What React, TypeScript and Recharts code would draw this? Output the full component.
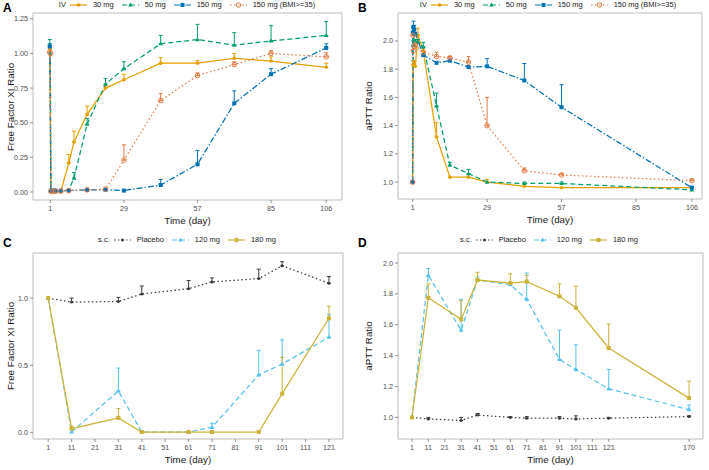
import React from "react";
import { LineChart, Line, XAxis, YAxis, ErrorBar, ReferenceArea } from "recharts";

// ---- Panel A: free FXI ratio, IV cohorts
const daysA30 = [0.8, 1.2, 2, 3, 5, 8, 10, 15, 22, 29, 43, 57, 71, 85, 106];
const valsA30 = [1.03, 0.005, 0.005, 0.005, 0.005, 0.21, 0.36, 0.56, 0.75, 0.81, 0.93, 0.93, 0.965, 0.945, 0.9];
const errsA30 = [0.02, 0, 0, 0, 0, 0.06, 0.08, 0.06, 0.02, 0.04, 0.04, 0.02, 0.035, 0.03, 0.03];

const daysA50 = [0.8, 1.0, 1.2, 2, 3, 5, 8, 10, 15, 22, 29, 43, 57, 71, 85, 106];
const valsA50 = [1.06, 1.0, 0.01, 0.01, 0.01, 0.01, 0.015, 0.1, 0.49, 0.78, 0.89, 1.07, 1.1, 1.06, 1.09, 1.13];
const errsA50 = [0.04, 0, 0, 0, 0, 0, 0, 0.04, 0.04, 0.04, 0.05, 0.06, 0.11, 0.09, 0.11, 0.1];

const daysA150 = [0.8, 1.2, 2, 3, 5, 8, 15, 22, 29, 43, 57, 71, 85, 106];
const valsA150 = [1.05, 0.01, 0.01, 0.01, 0.01, 0.01, 0.015, 0.015, 0.01, 0.05, 0.2, 0.64, 0.85, 1.04];
const errsA150 = [0.02, 0, 0, 0, 0, 0, 0, 0, 0, 0.04, 0.1, 0.09, 0.04, 0.03];

const daysABmi = [0.8, 1.0, 1.2, 2, 3, 5, 8, 15, 22, 29, 43, 57, 71, 85, 106];
const valsABmi = [1.01, 1.0, 0.005, 0.005, 0.005, 0.005, 0.01, 0.015, 0.02, 0.23, 0.66, 0.84, 0.92, 1.0, 0.975];
const errsABmi = [0, 0, 0, 0, 0, 0, 0, 0, 0, 0.11, 0.05, 0.02, 0.02, 0.02, 0.03];

// ---- Panel B: aPTT ratio, IV cohorts
const daysB30 = [1, 1.2, 1.5, 2, 3, 5, 10, 15, 22, 29, 43, 57, 106];
const valsB30 = [1.0, 1.83, 1.85, 1.82, 2.04, 1.93, 1.32, 1.035, 1.035, 1.0, 0.97, 0.96, 0.96];
const errsB30 = [0, 0.03, 0, 0, 0.05, 0.02, 0.1, 0, 0.02, 0.02, 0, 0, 0];

const daysB50 = [1, 1.2, 1.5, 2, 3, 5, 10, 15, 22, 29, 43, 57, 106];
const valsB50 = [1.0, 1.97, 2.01, 2.0, 1.99, 1.96, 1.54, 1.12, 1.06, 1.0, 0.99, 0.99, 0.945];
const errsB50 = [0, 0.03, 0.03, 0, 0.02, 0.03, 0.09, 0.02, 0.03, 0, 0.01, 0.01, 0];

const daysB150 = [1, 1.1, 1.3, 1.6, 2, 5, 10, 15, 22, 29, 43, 57, 106];
const valsB150 = [1.0, 2.06, 2.1, 2.08, 2.05, 1.9, 1.845, 1.86, 1.815, 1.82, 1.72, 1.53, 0.96];
const errsB150 = [0, 0.03, 0.04, 0.03, 0, 0, 0, 0.01, 0, 0.055, 0.12, 0.16, 0.01];

const daysBBmi = [1, 1.1, 1.3, 1.6, 2, 5, 10, 15, 22, 29, 43, 57, 106];
const valsBBmi = [1.0, 2.04, 1.93, 1.96, 1.97, 1.92, 1.89, 1.88, 1.85, 1.4, 1.08, 1.05, 1.01];
const errsBBmi = [0, 0.02, 0, 0.02, 0, 0, 0.03, 0.01, 0.04, 0.2, 0.02, 0.01, 0.01];

// ---- Panel C: free FXI ratio, s.c. cohorts
const daysC = [1, 11, 31, 41, 61, 71, 91, 101, 121];
const valsCPlacebo = [1.0, 0.97, 0.975, 1.03, 1.07, 1.12, 1.145, 1.24, 1.11];
const errsCPlacebo = [0, 0.03, 0.03, 0.06, 0.06, 0.03, 0.07, 0.03, 0.05];
const valsC120 = [1.0, 0.005, 0.31, 0.005, 0.005, 0.04, 0.43, 0.51, 0.71];
const errsC120 = [0, 0, 0.17, 0, 0, 0.03, 0.18, 0.18, 0.17];
const valsC180 = [1.0, 0.03, 0.11, 0.005, 0.005, 0.005, 0.005, 0.29, 0.85];
const errsC180 = [0, 0.02, 0.07, 0, 0, 0, 0, 0.27, 0.09];

// ---- Panel D: aPTT ratio, s.c. cohorts
const daysD = [1, 11, 31, 41, 61, 71, 91, 101, 121, 170];
const valsDPlacebo = [1.0, 0.99, 0.98, 1.015, 1.0, 0.995, 0.995, 0.99, 0.995, 1.005];
const errsDPlacebo = [0, 0.01, 0.02, 0.01, 0.005, 0.01, 0.01, 0.02, 0.005, 0.005];
const valsD120 = [1.0, 1.92, 1.565, 1.89, 1.86, 1.765, 1.375, 1.31, 1.185, 1.05];
const errsD120 = [0, 0.045, 0.2, 0.02, 0.01, 0.17, 0.19, 0.16, 0.125, 0.03];
const valsD180 = [1.0, 1.775, 1.635, 1.89, 1.87, 1.88, 1.785, 1.71, 1.45, 1.125];
const errsD180 = [0, 0.09, 0.12, 0.05, 0.06, 0.04, 0.08, 0.14, 0.155, 0.11];

const ticksIvX = [1, 29, 57, 85, 106];
const ticksCX = [1, 11, 21, 31, 41, 51, 61, 71, 81, 91, 101, 111, 121];
const ticksDX = [1, 11, 21, 31, 41, 51, 61, 71, 81, 91, 101, 111, 121, 170];
const ticksAY = [0, 0.25, 0.5, 0.75, 1, 1.25];
const ticksAptt = [1.0, 1.2, 1.4, 1.6, 1.8, 2.0];
const ticksCY = [0, 0.5, 1.0];

const FONT = '"Liberation Sans", Arial, sans-serif';

const C30 = "#E69F00";
const C50 = "#009E73";
const C150 = "#0072B2";
const CBMI = "#E37B45";
const CPLA = "#3c3c3c";
const C120 = "#56C3EC";
const C180 = "#CDB23A";

type Shape = "circle" | "triangle" | "square" | "open" | "star";

function toPoints(days: number[], vals: number[], errs: number[]) {
  return days.map((d, i) => ({
    day: d,
    value: vals[i],
    err: errs[i] ? [0, errs[i]] : null,
  }));
}

function Marker({ shape, color, cx, cy }: { shape: Shape; color: string; cx: number; cy: number }) {
  if (shape === "triangle") {
    return <polygon points={`${cx},${cy - 2.4} ${cx - 2.3},${cy + 1.6} ${cx + 2.3},${cy + 1.6}`} fill={color} />;
  }
  if (shape === "square") {
    return <rect x={cx - 2} y={cy - 2} width={4} height={4} fill={color} />;
  }
  if (shape === "open") {
    return <circle cx={cx} cy={cy} r={2.3} fill="none" stroke={color} strokeWidth={1} />;
  }
  if (shape === "star") {
    return <circle cx={cx} cy={cy} r={1.5} fill={color} />;
  }
  return <circle cx={cx} cy={cy} r={1.8} fill={color} />;
}

const makeDot = (shape: Shape, color: string) => (props: any) => {
  const { cx, cy, index } = props;
  if (cx == null || cy == null) return <g key={`e-${index}`} />;
  return (
    <g key={`d-${index}`}>
      <Marker shape={shape} color={color} cx={cx} cy={cy} />
    </g>
  );
};

interface Series {
  name: string;
  color: string;
  dash?: string;
  shape: Shape;
  data: { day: number; value: number; err: number[] | null }[];
}

const seriesA: Series[] = [
  { name: "30 mg", color: C30, shape: "circle", data: toPoints(daysA30, valsA30, errsA30) },
  { name: "50 mg", color: C50, dash: "5 3", shape: "triangle", data: toPoints(daysA50, valsA50, errsA50) },
  { name: "150 mg", color: C150, dash: "6 2 1.5 2", shape: "square", data: toPoints(daysA150, valsA150, errsA150) },
  { name: "150 mg (BMI>=35)", color: CBMI, dash: "1.5 2.5", shape: "open", data: toPoints(daysABmi, valsABmi, errsABmi) },
];

const seriesB: Series[] = [
  { name: "30 mg", color: C30, shape: "circle", data: toPoints(daysB30, valsB30, errsB30) },
  { name: "50 mg", color: C50, dash: "5 3", shape: "triangle", data: toPoints(daysB50, valsB50, errsB50) },
  { name: "150 mg", color: C150, dash: "6 2 1.5 2", shape: "square", data: toPoints(daysB150, valsB150, errsB150) },
  { name: "150 mg (BMI>=35)", color: CBMI, dash: "1.5 2.5", shape: "open", data: toPoints(daysBBmi, valsBBmi, errsBBmi) },
];

const seriesC: Series[] = [
  { name: "Placebo", color: CPLA, dash: "1.5 2.5", shape: "star", data: toPoints(daysC, valsCPlacebo, errsCPlacebo) },
  { name: "120 mg", color: C120, dash: "5 3", shape: "triangle", data: toPoints(daysC, valsC120, errsC120) },
  { name: "180 mg", color: C180, shape: "square", data: toPoints(daysC, valsC180, errsC180) },
];

const seriesD: Series[] = [
  { name: "Placebo", color: CPLA, dash: "1.5 2.5", shape: "star", data: toPoints(daysD, valsDPlacebo, errsDPlacebo) },
  { name: "120 mg", color: C120, dash: "5 3", shape: "triangle", data: toPoints(daysD, valsD120, errsD120) },
  { name: "180 mg", color: C180, shape: "square", data: toPoints(daysD, valsD180, errsD180) },
];

interface PanelProps {
  letter: string;
  left: number;
  top: number;
  margin: { top: number; right: number; left: number; bottom: number };
  yWidth: number;
  xHeight: number;
  xDomain: [number, number];
  yDomain: [number, number];
  xTicks: number[];
  yTicks: number[];
  digits: number;
  yTitle: string;
  yTitleX: number;
  legendTitle: string;
  legendCenter: number;
  series: Series[];
}

const W = 354;
const H = 235;

function LegendRow({ title, series, center, top }: { title: string; series: Series[]; center: number; top: number }) {
  return (
    <div
      style={{
        position: "absolute",
        left: center - 200,
        width: 400,
        top,
        display: "flex",
        justifyContent: "center",
        alignItems: "center",
        fontFamily: FONT,
        fontSize: 7.5,
        color: "#1a1a1a",
        whiteSpace: "nowrap",
      }}
    >
      <span style={{ marginRight: 4 }}>{title}</span>
      {series.map((s) => (
        <span key={s.name} style={{ display: "flex", alignItems: "center", marginRight: 8 }}>
          <svg width={17} height={8} style={{ marginRight: 6 }}>
            <line x1={0} y1={4} x2={17} y2={4} stroke={s.color} strokeWidth={1.2} strokeDasharray={s.dash} />
            <Marker shape={s.shape} color={s.color} cx={8.5} cy={4} />
          </svg>
          <span>{s.name}</span>
        </span>
      ))}
    </div>
  );
}

function Panel(p: PanelProps) {
  const plotLeft = p.left + p.margin.left + p.yWidth;
  const plotRight = p.left + W - p.margin.right;
  const plotTop = p.top + p.margin.top;
  const plotBottom = p.top + H - p.margin.bottom - p.xHeight;
  const tickStyle = { fontSize: 7.2, fill: "#4d4d4d", fontFamily: FONT };
  return (
    <>
      <div
        style={{
          position: "absolute",
          left: p.left + 3,
          top: p.top + 1,
          fontFamily: FONT,
          fontWeight: "bold",
          fontSize: 12,
          color: "#000",
        }}
      >
        {p.letter}
      </div>
      <LegendRow title={p.legendTitle} series={p.series} center={p.legendCenter} top={p.top} />
      <div style={{ position: "absolute", left: p.left, top: p.top }}>
        <LineChart width={W} height={H} margin={p.margin}>
          <XAxis
            type="number"
            dataKey="day"
            domain={p.xDomain}
            ticks={p.xTicks}
            allowDataOverflow
            axisLine={false}
            tickLine={{ stroke: "#4d4d4d", strokeWidth: 0.6 }}
            tickSize={3}
            tickMargin={2.5}
            tick={tickStyle}
            height={p.xHeight}
            interval={0}
          />
          <YAxis
            type="number"
            dataKey="value"
            domain={p.yDomain}
            ticks={p.yTicks}
            allowDataOverflow
            axisLine={false}
            tickLine={{ stroke: "#4d4d4d", strokeWidth: 0.6 }}
            tickSize={3}
            tickMargin={2}
            tick={tickStyle}
            width={p.yWidth}
            tickFormatter={(v: number) => v.toFixed(p.digits)}
            interval={0}
          />
          <ReferenceArea
            x1={p.xDomain[0]}
            x2={p.xDomain[1]}
            y1={p.yDomain[0]}
            y2={p.yDomain[1]}
            fill="none"
            stroke="#bdbdbd"
            strokeWidth={1}
          />
          {p.series.map((s) => (
            <Line
              key={s.name}
              data={s.data}
              dataKey="value"
              type="linear"
              stroke={s.color}
              strokeWidth={1.25}
              strokeDasharray={s.dash}
              dot={makeDot(s.shape, s.color)}
              activeDot={false}
              isAnimationActive={false}
            >
              <ErrorBar dataKey="err" direction="y" width={2} stroke={s.color} strokeWidth={1} />
            </Line>
          ))}
        </LineChart>
      </div>
      <div
        style={{
          position: "absolute",
          left: plotLeft,
          width: plotRight - plotLeft,
          top: plotBottom + 15,
          textAlign: "center",
          fontFamily: FONT,
          fontSize: 9.8,
          color: "#1a1a1a",
        }}
      >
        Time (day)
      </div>
      <div
        style={{
          position: "absolute",
          left: p.left + p.yTitleX - 60,
          top: (plotTop + plotBottom) / 2 - 6,
          width: 120,
          textAlign: "center",
          transform: "rotate(-90deg)",
          fontFamily: FONT,
          fontSize: 9.8,
          color: "#1a1a1a",
          lineHeight: "12px",
        }}
      >
        {p.yTitle}
      </div>
    </>
  );
}

export default function App() {
  return (
    <div style={{ position: "absolute", left: 0, top: 0, width: 709, height: 470, background: "#fff" }}>
      <Panel
        letter="A"
        left={0}
        top={0}
        margin={{ top: 13, right: 12, left: 3, bottom: 0 }}
        yWidth={30}
        xHeight={35}
        xDomain={[-5.6, 112]}
        yDomain={[-0.058, 1.292]}
        xTicks={ticksIvX}
        yTicks={ticksAY}
        digits={2}
        yTitle="Free Factor XI Ratio"
        yTitleX={11}
        legendTitle="IV"
        legendCenter={191}
        series={seriesA}
      />
      <Panel
        letter="B"
        left={355}
        top={0}
        margin={{ top: 13, right: 7, left: 3, bottom: 0 }}
        yWidth={40}
        xHeight={36}
        xDomain={[-4.5, 109.8]}
        yDomain={[0.88, 2.198]}
        xTicks={ticksIvX}
        yTicks={ticksAptt}
        digits={1}
        yTitle="aPTT Ratio"
        yTitleX={14}
        legendTitle="IV"
        legendCenter={552}
        series={seriesB}
      />
      <Panel
        letter="C"
        left={0}
        top={235}
        margin={{ top: 18, right: 11, left: 3, bottom: 0 }}
        yWidth={30}
        xHeight={31}
        xDomain={[-5.5, 127]}
        yDomain={[-0.047, 1.335]}
        xTicks={ticksCX}
        yTicks={ticksCY}
        digits={1}
        yTitle="Free Factor XI Ratio"
        yTitleX={11}
        legendTitle="s.c."
        legendCenter={191}
        series={seriesC}
      />
      <Panel
        letter="D"
        left={355}
        top={235}
        margin={{ top: 18, right: 6, left: 3, bottom: 0 }}
        yWidth={40}
        xHeight={31}
        xDomain={[-7.5, 178.5]}
        yDomain={[0.86, 2.065]}
        xTicks={ticksDX}
        yTicks={ticksAptt}
        digits={1}
        yTitle="aPTT Ratio"
        yTitleX={14}
        legendTitle="s.c."
        legendCenter={553}
        series={seriesD}
      />
    </div>
  );
}
